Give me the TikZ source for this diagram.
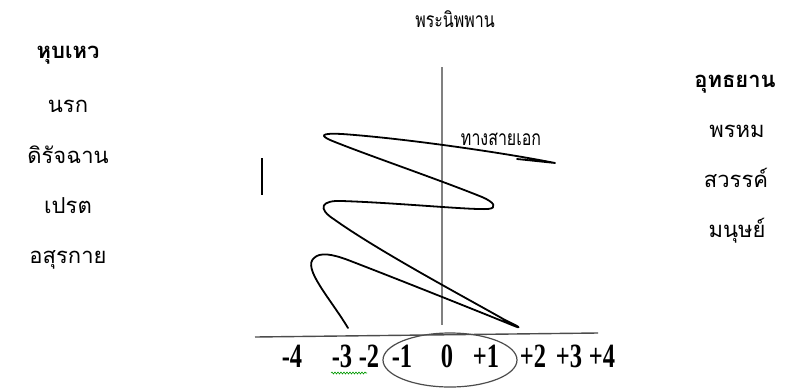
\documentclass[tikz,border=0pt]{standalone}
\usepackage{fontspec}
\setmainfont{Liberation Serif}
\newfontfamily\thai[Script=Thai]{Loma}
\usetikzlibrary{decorations.pathmorphing,shapes.geometric}
\tikzset{
  thaitxt/.style={font=\thai\fontsize{22}{24}\selectfont, inner sep=0pt, anchor=base},
  thaibold/.style={thaitxt, font=\thai\bfseries\fontsize{22}{24}\selectfont},
  smallthai/.style={font=\thai\fontsize{21}{23}\selectfont, inner sep=0pt, anchor=base},
  num/.style={font=\bfseries\fontsize{34}{36}\selectfont, inner sep=0pt, anchor=base},
  curve/.style={line width=1.8pt, line cap=round, line join=round},
}
\newcommand{\nx}[1]{\scalebox{0.72}[1]{#1}}
\newcommand{\tx}[1]{\scalebox{0.76}[1]{#1}}
\begin{document}
\begin{tikzpicture}[x=1pt,y=-1pt]
\useasboundingbox (0,0) rectangle (800,391);
% title
\node[smallthai] (title) at (455,27) {\tx{พระนิพพาน}};
% left column
\node[thaibold] (l0) at (68,58) {หุบเหว};
\node[thaitxt] (l1) at (68,112) {นรก};
\node[thaitxt] (l2) at (68,163) {ดิรัจฉาน};
\node[thaitxt] (l3) at (68,213) {เปรต};
\node[thaitxt] (l4) at (68,263) {อสุรกาย};
% right column
\node[thaibold] (r0) at (735,87) {อุทธยาน};
\node[thaitxt] (r1) at (737,137) {พรหม};
\node[thaitxt] (r2) at (736,187) {สวรรค์};
\node[thaitxt] (r3) at (737,237) {มนุษย์};
% path label
\node[smallthai] (way) at (501,145) {\tx{ทางสายเอก}};
% axes
\coordinate (vtop) at (442,67);
\coordinate (vbot) at (442,325);
\draw[gray, line width=1.1pt] (vtop) -- (vbot);
\coordinate (hl) at (255,337);
\coordinate (hr) at (598,333);
\draw[black!70, line width=1.4pt] (hl) -- (hr);
% small bar
\coordinate (bt) at (262,158);
\coordinate (bb) at (262,195);
\draw[line width=2.2pt] (bt) -- (bb);
% ellipse
\node[draw=black!70, line width=1.2pt, ellipse, minimum width=134pt, minimum height=54pt, inner sep=0pt] (oval) at (450,360) {};
% numbers
\node[num] (n1) at (292,367) {\nx{-4}};
\node[num] (n2) at (342,367) {\nx{-3}};
\node[num] (n3) at (369,367) {\nx{-2}};
\node[num] (n4) at (402,367) {\nx{-1}};
\node[num] (n5) at (447,367) {\nx{0}};
\node[num] (n6) at (486,367) {\nx{+1}};
\node[num] (n7) at (533,367) {\nx{+2}};
\node[num] (n8) at (569,367) {\nx{+3}};
\node[num] (n9) at (602,367) {\nx{+4}};
% spell squiggle
\coordinate (sq1) at (331,373);
\coordinate (sq2) at (367,373);
\draw[green!60!black, line width=0.6pt, decorate, decoration={snake, amplitude=1pt, segment length=3pt}] (sq1) -- (sq2);
% zigzag curve
\coordinate (cstart) at (348,328);
\coordinate (cend) at (517,159);
\draw[curve] (cstart)
  .. controls (330,298) and (302,268) .. (314,258)
  .. controls (320,252) and (332,254) .. (348,260)
  .. controls (400,280) and (480,312) .. (512,325)
  .. controls (524,330) and (518,326) .. (505,320)
  .. controls (470,300) and (380,252) .. (335,220)
  .. controls (316,208) and (322,200) .. (342,201)
  .. controls (400,203) and (470,210) .. (488,209)
  .. controls (498,208) and (494,202) .. (482,197)
  .. controls (440,180) and (370,156) .. (335,142)
  .. controls (317,135) and (322,133) .. (342,134)
  .. controls (400,138) and (500,152) .. (555,163)
  -- (cend);
\end{tikzpicture}
\end{document}
